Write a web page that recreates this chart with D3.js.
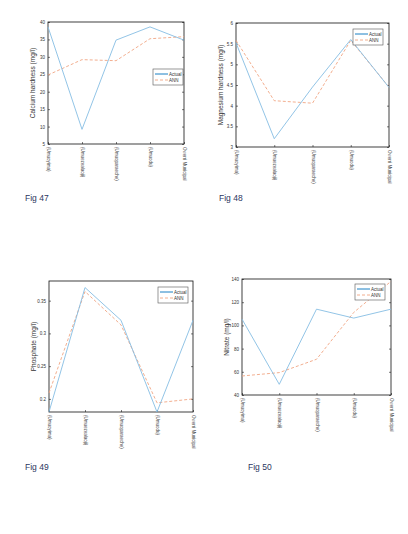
<!DOCTYPE html>
<html>
<head>
<meta charset="utf-8">
<script src="https://cdn.jsdelivr.net/npm/d3@7"></script>
<style>
  body { margin: 0; background: #fff; }
  svg text { font-family: "Liberation Sans", Arial, sans-serif; }
</style>
</head>
<body>
<div id="chart"></div>
<script>
const sites = ["(Umuoyima)", "(Umuezealaoji)", "(Umuoparaeche)", "(Umuodu)", "Owerri Municipal"];

const calciumActual = [38.6, 9.2, 34.8, 38.6, 34.8];
const calciumAnn = [24.8, 29.2, 28.9, 35.2, 35.8];
const calciumTicks = [5, 10, 15, 20, 25, 30, 35, 40];

const magnesiumActual = [5.52, 3.2, 4.45, 5.6, 4.44];
const magnesiumAnn = [5.58, 4.12, 4.06, 5.58, 4.45];
const magnesiumTicks = [3, 3.5, 4, 4.5, 5, 5.5, 6];

const phosphateActual = [0.18, 0.37, 0.32, 0.18, 0.32];
const phosphateAnn = [0.209, 0.364, 0.313, 0.194, 0.2];
const phosphateTicks = [0.2, 0.25, 0.3, 0.35];

const nitrateActual = [105.4, 49.2, 114, 106.3, 114];
const nitrateAnn = [56.4, 59.3, 70.8, 111.2, 138];
const nitrateTicks = [40, 60, 80, 100, 120, 140];

const panels = [
    { fig: "Fig 47", label: "Calcium hardness (mg/l)", actual: calciumActual, ann: calciumAnn,
      ticks: calciumTicks, domain: [5, 40], box: [48, 22, 184, 144], legend: [153, 69], figPos: [25, 201] },
    { fig: "Fig 48", label: "Magnesium hardness (mg/l)", actual: magnesiumActual, ann: magnesiumAnn,
      ticks: magnesiumTicks, domain: [3, 6], box: [236, 23, 389, 147], legend: [353, 29], figPos: [219, 201] },
    { fig: "Fig 49", label: "Phosphate (mg/l)", actual: phosphateActual, ann: phosphateAnn,
      ticks: phosphateTicks, domain: [0.18, 0.38], box: [49, 281, 193, 412], legend: [158, 287], figPos: [25, 470] },
    { fig: "Fig 50", label: "Nitrate (mg/l)", actual: nitrateActual, ann: nitrateAnn,
      ticks: nitrateTicks, domain: [40, 140], box: [242, 279, 391, 395], legend: [355, 284], figPos: [248, 470] }
];

const svg = d3.select("#chart").append("svg")
    .attr("width", 408)
    .attr("height", 534);

panels.forEach(p => {
    const [x0, y0, x1, y1] = p.box;
    const x = d3.scalePoint().domain(sites).range([x0, x1]);
    const y = d3.scaleLinear().domain(p.domain).range([y1, y0]);
    const g = svg.append("g");

    // y axis
    const yAxis = g.append("g")
        .attr("transform", `translate(${x0},0)`)
        .call(d3.axisLeft(y).tickValues(p.ticks).tickSize(-2).tickPadding(3).tickFormat(d3.format("")));
    yAxis.select(".domain").remove();
    yAxis.selectAll("text").attr("font-size", 4.5).attr("fill", "#333");
    yAxis.selectAll("line").attr("stroke", "#222").attr("stroke-width", 0.6);

    // right ticks
    g.append("g")
        .attr("transform", `translate(${x1},0)`)
        .call(d3.axisRight(y).tickValues(p.ticks).tickSize(-2).tickFormat(""))
        .call(a => a.select(".domain").remove())
        .selectAll("line").attr("stroke", "#222").attr("stroke-width", 0.6);

    // x axis
    const xAxis = g.append("g")
        .attr("transform", `translate(0,${y1})`)
        .call(d3.axisBottom(x).tickSize(-2).tickPadding(2));
    xAxis.select(".domain").remove();
    xAxis.selectAll("line").attr("stroke", "#222").attr("stroke-width", 0.6);
    xAxis.selectAll("text")
        .attr("font-size", 4.5)
        .attr("fill", "#444")
        .attr("text-anchor", "start")
        .attr("dy", "0.32em")
        .attr("transform", "translate(0,3) rotate(90)")
        .attr("y", 0)
        .attr("x", 0);

    // frame
    g.append("rect")
        .attr("x", x0).attr("y", y0)
        .attr("width", x1 - x0).attr("height", y1 - y0)
        .attr("fill", "none").attr("stroke", "#111").attr("stroke-width", 0.8);

    const line = d3.line().x((d, i) => x(sites[i])).y(d => y(d));

    g.append("path")
        .datum(p.ann)
        .attr("d", line)
        .attr("fill", "none")
        .attr("stroke", "#f0a582")
        .attr("stroke-width", 0.9)
        .attr("stroke-dasharray", "3,2");

    g.append("path")
        .datum(p.actual)
        .attr("d", line)
        .attr("fill", "none")
        .attr("stroke", "#86bde3")
        .attr("stroke-width", 0.9);

    // y label
    g.append("text")
        .attr("transform", `translate(${x0 - 13},${(y0 + y1) / 2}) rotate(-90)`)
        .attr("text-anchor", "middle")
        .attr("font-size", 6.5)
        .attr("fill", "#333")
        .text(p.label);

    // legend
    const [lx, ly] = p.legend;
    const lg = g.append("g").attr("transform", `translate(${lx},${ly})`);
    lg.append("rect")
        .attr("width", 30).attr("height", 16)
        .attr("fill", "#fff").attr("stroke", "#555").attr("stroke-width", 0.6);
    lg.append("line").attr("x1", 2).attr("x2", 15).attr("y1", 5).attr("y2", 5)
        .attr("stroke", "#0072bd").attr("stroke-width", 0.9);
    lg.append("line").attr("x1", 2).attr("x2", 15).attr("y1", 11).attr("y2", 11)
        .attr("stroke", "#f0a582").attr("stroke-width", 0.9).attr("stroke-dasharray", "3,2");
    lg.append("text").attr("x", 16).attr("y", 6.5).attr("font-size", 4.5).attr("fill", "#333").text("Actual");
    lg.append("text").attr("x", 16).attr("y", 12.5).attr("font-size", 4.5).attr("fill", "#333").text("ANN");

    // figure caption
    svg.append("text")
        .attr("x", p.figPos[0]).attr("y", p.figPos[1])
        .attr("font-family", "'Liberation Serif', 'DejaVu Serif', serif")
        .attr("font-size", 8.5)
        .attr("fill", "#2b3660")
        .text(p.fig);
});
</script>
</body>
</html>
